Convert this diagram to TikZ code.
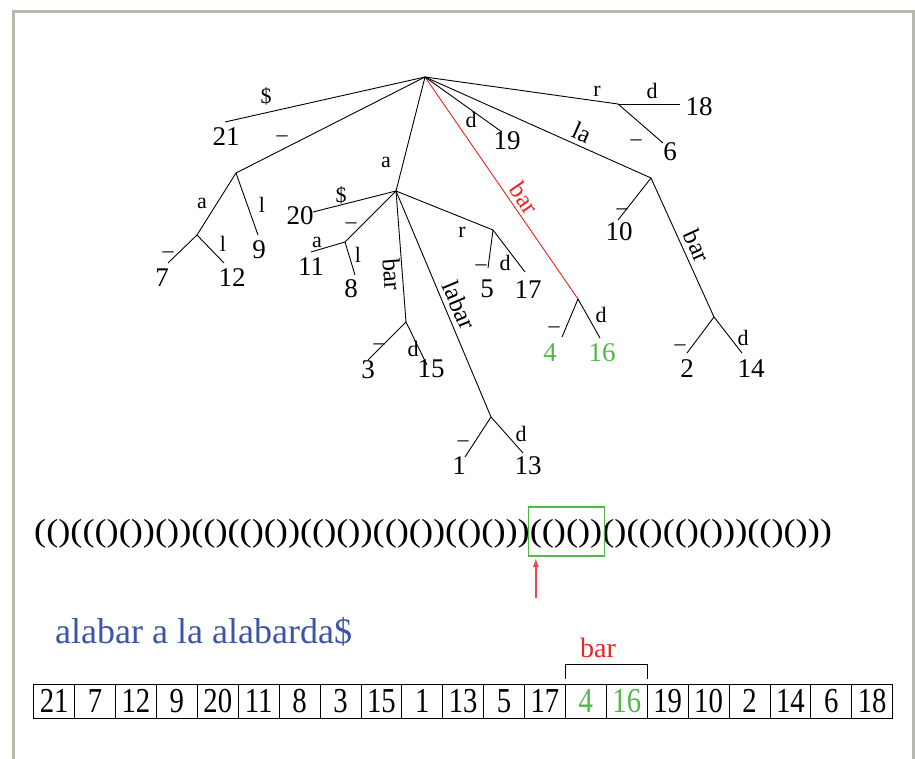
\documentclass[tikz,border=0pt]{standalone}
\usepackage{fontspec}
\setmainfont{Liberation Serif}
\usetikzlibrary{arrows.meta,calc}
\definecolor{framegray}{RGB}{184,184,174}
\definecolor{myblue}{RGB}{60,85,170}
\definecolor{mygreen}{RGB}{80,185,72}
\definecolor{myred}{RGB}{235,35,35}
\definecolor{arrowred}{RGB}{240,70,70}
\begin{document}
\begin{tikzpicture}[x=1pt,y=-1pt,
  edge/.style={draw=black,line width=0.9pt},
  num/.style={inner sep=0pt,font=\fontsize{27}{27}\selectfont},
  lab/.style={inner sep=0pt,font=\fontsize{22}{22}\selectfont},
  dashlab/.style={inner sep=0pt,yshift=-2pt,font=\fontsize{22}{22}\selectfont},
  rlab/.style={sloped,inner sep=2pt,font=\fontsize{25}{25}\selectfont},
  cell/.style={draw,line width=0.8pt,minimum width=40.9pt,minimum height=34pt,inner sep=0pt,anchor=north west,font=\fontsize{35}{35}\selectfont},
]
\useasboundingbox (0,0) rectangle (915,759);
\fill[white] (0,0) rectangle (915,759);
\draw[framegray,line width=3pt] (13.5,759) -- (13.5,11.5) -- (913.5,11.5) -- (913.5,759);

% internal nodes
\coordinate (R) at (425,77);
\coordinate (A) at (236,173);
\coordinate (A1) at (197,235);
\coordinate (B) at (396,191);
\coordinate (B2) at (345,242);
\coordinate (B3) at (406,322);
\coordinate (B4) at (491,417);
\coordinate (B5) at (493,230);
\coordinate (Nbar) at (578,299);
\coordinate (Nla) at (651,178);
\coordinate (Nlab) at (714,317);
\coordinate (Nr) at (618,104);
% leaf ends
\coordinate (e21) at (225,122);
\coordinate (e7) at (168,263);
\coordinate (e12) at (224,263);
\coordinate (e9) at (258,235);
\coordinate (e20) at (313,212);
\coordinate (e11) at (311,252);
\coordinate (e8) at (355,275);
\coordinate (e3) at (368,360);
\coordinate (e15) at (427,365);
\coordinate (e1) at (465,457);
\coordinate (e13) at (523,453);
\coordinate (e5) at (488,268);
\coordinate (e17) at (525,272);
\coordinate (e4) at (562,337);
\coordinate (e16) at (600,338);
\coordinate (e19) at (502,132);
\coordinate (e10) at (618,220);
\coordinate (e2) at (687,353);
\coordinate (e14) at (742,353);
\coordinate (e6) at (663,143);
\coordinate (e18) at (680,104);

% edges
\draw[edge] (R) -- (e21);
\draw[edge] (R) -- (A);
\draw[edge] (A) -- (A1);
\draw[edge] (A) -- (e9);
\draw[edge] (A1) -- (e7);
\draw[edge] (A1) -- (e12);
\draw[edge] (R) -- (B);
\draw[edge] (B) -- (e20);
\draw[edge] (B) -- (B2);
\draw[edge] (B2) -- (e11);
\draw[edge] (B2) -- (e8);
\draw[edge] (B) -- node[rlab,below,pos=0.63,inner sep=1pt] (lbar2) {bar} (B3);
\draw[edge] (B3) -- (e3);
\draw[edge] (B3) -- (e15);
\draw[edge] (B) -- node[rlab,above,pos=0.53,inner sep=5pt] (llabar) {labar} (B4);
\draw[edge] (B4) -- (e1);
\draw[edge] (B4) -- (e13);
\draw[edge] (B) -- (B5);
\draw[edge] (B5) -- (e5);
\draw[edge] (B5) -- (e17);
\draw[edge,draw=myred] (R) -- node[rlab,above,pos=0.58,inner sep=4pt,text=myred] (lbar1) {bar} (Nbar);
\draw[edge] (Nbar) -- (e4);
\draw[edge] (Nbar) -- (e16);
\draw[edge] (R) -- (e19);
\draw[edge] (R) -- node[rlab,above,pos=0.67,inner sep=4pt] (lla) {la} (Nla);
\draw[edge] (Nla) -- (e10);
\draw[edge] (Nla) -- node[rlab,above,pos=0.53,inner sep=5pt] (lbar3) {bar} (Nlab);
\draw[edge] (Nlab) -- (e2);
\draw[edge] (Nlab) -- (e14);
\draw[edge] (R) -- (Nr);
\draw[edge] (Nr) -- (e18);
\draw[edge] (Nr) -- (e6);

% edge letter labels
\node[lab] (t1) at (266,96) {\$};
\node[dashlab] (t2) at (282,137) {\textendash};
\node[lab] (t3) at (202,203) {a};
\node[lab] (t4) at (262,205) {l};
\node[dashlab] (t5) at (168,253) {\textendash};
\node[lab] (t6) at (223,244) {l};
\node[lab] (t7) at (386,162) {a};
\node[lab] (t8) at (341,195) {\$};
\node[dashlab] (t9) at (351,224) {\textendash};
\node[lab] (t10) at (317,242) {a};
\node[lab] (t11) at (358,255) {l};
\node[lab] (t12) at (462,232) {r};
\node[dashlab] (t13) at (481,266) {\textendash};
\node[lab] (t14) at (505,263) {d};
\node[dashlab] (t15) at (379,345) {\textendash};
\node[lab] (t16) at (413,349) {d};
\node[dashlab] (t17) at (463,442) {\textendash};
\node[lab] (t18) at (521,434) {d};
\node[dashlab] (t19) at (554,328) {\textendash};
\node[lab] (t20) at (601,315) {d};
\node[lab] (t21) at (471,120) {d};
\node[dashlab] (t22) at (622,210) {\textendash};
\node[dashlab] (t23) at (680,346) {\textendash};
\node[lab] (t24) at (743,338) {d};
\node[lab] (t25) at (597,91) {r};
\node[lab] (t26) at (652,91) {d};
\node[dashlab] (t27) at (636,141) {\textendash};

% leaf numbers
\node[num] (n21) at (226,137) {21};
\node[num] (n7) at (162,278) {7};
\node[num] (n12) at (232,278) {12};
\node[num] (n9) at (259,250) {9};
\node[num] (n20) at (300,216) {20};
\node[num] (n11) at (311,267) {11};
\node[num] (n8) at (351,289) {8};
\node[num] (n3) at (368,370) {3};
\node[num] (n15) at (431,369) {15};
\node[num] (n1) at (459,466) {1};
\node[num] (n13) at (528,466) {13};
\node[num] (n5) at (487,289) {5};
\node[num] (n17) at (528,290) {17};
\node[num,text=mygreen] (n4) at (550,353) {4};
\node[num,text=mygreen] (n16) at (602,353) {16};
\node[num] (n19) at (507,141) {19};
\node[num] (n10) at (619,232) {10};
\node[num] (n2) at (687,369) {2};
\node[num] (n14) at (751,369) {14};
\node[num] (n6) at (670,152) {6};
\node[num] (n18) at (699,107) {18};

% balanced parentheses
\node[anchor=west,inner sep=0pt,font=\fontsize{36.3}{36.3}\selectfont] (bp) at (34,534) {\scalebox{1}[0.88]{(()((()())())(()(()())(()())(()())(()()))(()())()(()(()()))(()()))}};
\coordinate (hlL) at ($(bp.west)!41/66!(bp.east)$);
\coordinate (hlR) at ($(bp.west)!47/66!(bp.east)$);
\coordinate (bxa) at ([xshift=-1pt]hlL);
\coordinate (bxb) at ([xshift=2pt]hlR);
\draw[mygreen,line width=1.2pt] (bxa |- 0,507) rectangle (bxb |- 0,556);
\coordinate (atail) at ([xshift=7pt]bxa |- 0,598);
\coordinate (ahead) at ([xshift=7pt]bxa |- 0,558);
\draw[arrowred,line width=1.3pt,-{Latex[length=9pt,width=6pt]}] (atail) -- (ahead);

% text
\node[anchor=base west,inner sep=0pt,text=myblue,font=\fontsize{36}{36}\selectfont] (title) at (55,643) {alabar a la alabarda\$};

% suffix array
\foreach \v/\c [count=\i from 0] in {21/black,7/black,12/black,9/black,20/black,11/black,8/black,3/black,15/black,1/black,13/black,5/black,17/black,4/mygreen,16/mygreen,19/black,10/black,2/black,14/black,6/black,18/black}
  \node[cell,text=\c] (c\i) at ({33.3+40.9*\i},684) {\scalebox{0.82}[1]{\v}};
\draw[line width=0.9pt] ([yshift=5pt]c13.north west) |- ([yshift=20pt]c14.north east) -- ([yshift=5pt]c14.north east);
\node[anchor=base,inner sep=0pt,text=myred,font=\fontsize{28}{28}\selectfont] (barlab) at (598,657) {bar};
\end{tikzpicture}
\end{document}
